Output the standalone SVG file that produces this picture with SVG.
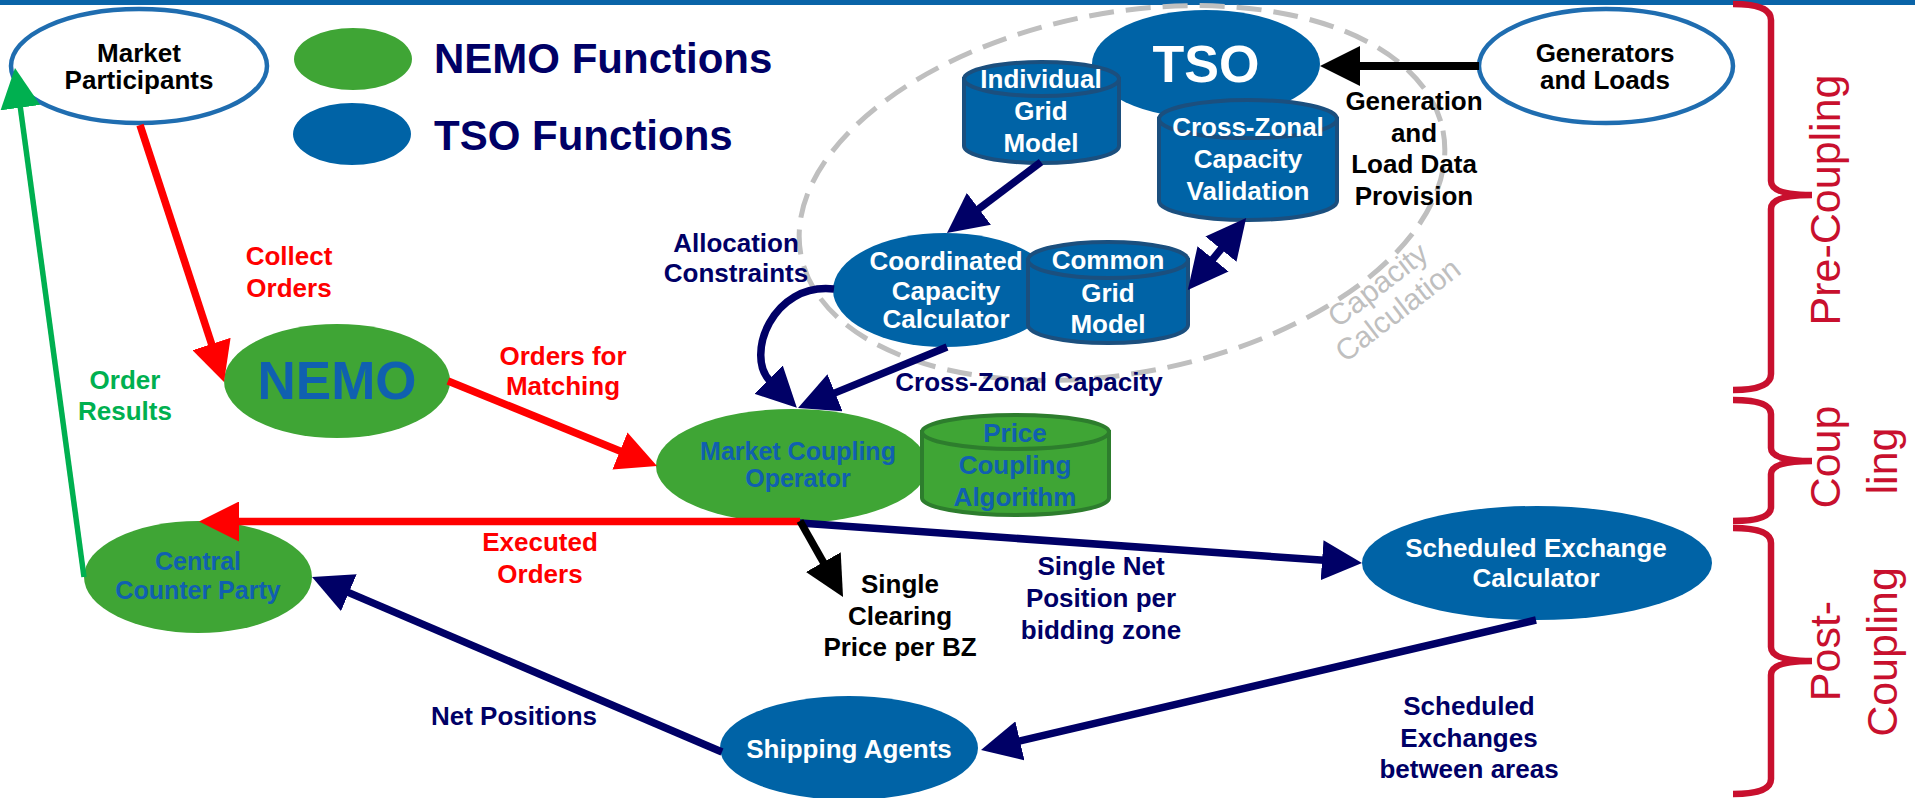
<svg xmlns="http://www.w3.org/2000/svg" width="1915" height="798" viewBox="0 0 1915 798">
<style>
text { font-family: "Liberation Sans", Arial, Helvetica, sans-serif; font-weight: bold; font-size: 26px; }
.c { text-anchor: middle; }
.w { fill: #ffffff; }
.k { fill: #000000; }
.nv { fill: #000066; }
.rd { fill: #FF0000; }
.gr { fill: #00B050; }
.bl { fill: #1060B0; }
.tsof { fill: #0063A6; }
.nemof { fill: #3FA535; }
.cylb { fill: #0063A6; stroke: #1B4F7E; stroke-width: 4; }
.cylg { fill: #3FA535; stroke: #2D7D2D; stroke-width: 4; }
.ext { fill: #ffffff; stroke: #1F6DB0; stroke-width: 4.5; }
.ln { fill: none; stroke-width: 7.5; }
.lred { stroke: #FF0000; marker-end: url(#ah-red); }
.lnav { stroke: #000066; marker-end: url(#ah-nav); }
.lblk { stroke: #000000; marker-end: url(#ah-blk); }
.lgrn { stroke: #00B050; stroke-width: 5.5; marker-end: url(#ah-grn); }
.brace { fill: none; stroke: #C8102E; stroke-width: 6.5; }
.bt { font-weight: normal; font-size: 43px; fill: #C8102E; text-anchor: middle; }
.cap { font-weight: normal; font-size: 30px; fill: #BFBFBF; text-anchor: middle; }
</style>
<defs>
<marker id="ah-red" markerUnits="userSpaceOnUse" markerWidth="40" markerHeight="40" viewBox="0 0 40 40" refX="2" refY="20" orient="auto"><path d="M0,0 L40,20 L0,40 Z" fill="#FF0000"/></marker>
<marker id="ah-nav" markerUnits="userSpaceOnUse" markerWidth="40" markerHeight="40" viewBox="0 0 40 40" refX="2" refY="20" orient="auto-start-reverse"><path d="M0,0 L40,20 L0,40 Z" fill="#000066"/></marker>
<marker id="ah-blk" markerUnits="userSpaceOnUse" markerWidth="40" markerHeight="40" viewBox="0 0 40 40" refX="2" refY="20" orient="auto"><path d="M0,0 L40,20 L0,40 Z" fill="#000000"/></marker>
<marker id="ah-grn" markerUnits="userSpaceOnUse" markerWidth="40" markerHeight="40" viewBox="0 0 40 40" refX="2" refY="20" orient="auto"><path d="M0,0 L40,20 L0,40 Z" fill="#00B050"/></marker>
</defs>

<rect id="top-bar" x="0" y="0" width="1915" height="5" fill="#0A64A8"/>

<g id="capacity-calculation">
<ellipse cx="1122" cy="193" rx="327" ry="180" transform="rotate(-11 1122 193)" fill="none" stroke="#BFBFBF" stroke-width="5" stroke-dasharray="25 12"/>
<text class="cap" transform="translate(1384 293) rotate(-37.6)">Capacity</text>
<text class="cap" transform="translate(1404 318) rotate(-37.6)">Calculation</text>
</g>

<g id="legend">
<ellipse class="nemof" cx="353" cy="59" rx="59" ry="31"/>
<text class="nv" x="434" y="73" style="font-size:42px">NEMO Functions</text>
<ellipse class="tsof" cx="352" cy="134" rx="59" ry="31"/>
<text class="nv" x="434" y="150" style="font-size:42px">TSO Functions</text>
</g>

<g id="market-participants">
<ellipse class="ext" cx="139" cy="66" rx="128" ry="57"/>
<text class="c k"><tspan x="139" y="62">Market</tspan><tspan x="139" y="89">Participants</tspan></text>
</g>

<g id="generators-loads">
<ellipse class="ext" cx="1606" cy="66" rx="127" ry="57"/>
<text class="c k"><tspan x="1605" y="62">Generators</tspan><tspan x="1605" y="89">and Loads</tspan></text>
</g>

<g id="tso">
<ellipse class="tsof" cx="1206" cy="64" rx="114" ry="54"/>
<text class="c w" x="1206" y="82" style="font-size:52px">TSO</text>
</g>

<g id="individual-grid-model">
<path class="cylb" d="M964,79 L964,146 A77.5,17 0 0 0 1119,146 L1119,79 Z"/>
<ellipse class="cylb" cx="1041.5" cy="79" rx="77.5" ry="17"/>
<text class="c w"><tspan x="1041" y="88">Individual</tspan><tspan x="1041" y="120">Grid</tspan><tspan x="1041" y="152">Model</tspan></text>
</g>

<g id="cross-zonal-capacity-validation">
<path class="cylb" d="M1159,119 L1159,201 A89,19 0 0 0 1337,201 L1337,119 Z"/>
<ellipse class="cylb" cx="1248" cy="119" rx="89" ry="19"/>
<text class="c w"><tspan x="1248" y="136">Cross-Zonal</tspan><tspan x="1248" y="168">Capacity</tspan><tspan x="1248" y="200">Validation</tspan></text>
</g>

<g id="coordinated-capacity-calculator">
<ellipse class="tsof" cx="945" cy="290" rx="112" ry="57"/>
<text class="c w"><tspan x="946" y="270">Coordinated</tspan><tspan x="946" y="300">Capacity</tspan><tspan x="946" y="328">Calculator</tspan></text>
</g>

<g id="common-grid-model">
<path class="cylb" d="M1028,260 L1028,325 A80,18 0 0 0 1188,325 L1188,260 Z"/>
<ellipse class="cylb" cx="1108" cy="260" rx="80" ry="18"/>
<text class="c w"><tspan x="1108" y="269">Common</tspan><tspan x="1108" y="302">Grid</tspan><tspan x="1108" y="333">Model</tspan></text>
</g>

<g id="nemo">
<ellipse class="nemof" cx="337" cy="381" rx="113" ry="57"/>
<text class="c bl" x="337" y="399" style="font-size:53px">NEMO</text>
</g>

<g id="market-coupling-operator">
<ellipse class="nemof" cx="792" cy="466" rx="136" ry="57"/>
<text class="c bl" style="font-size:25px"><tspan x="798" y="460">Market Coupling</tspan><tspan x="798" y="487">Operator</tspan></text>
</g>

<g id="price-coupling-algorithm">
<path class="cylg" d="M922,432 L922,498 A93.5,17 0 0 0 1109,498 L1109,432 Z"/>
<ellipse class="cylg" cx="1015.5" cy="432" rx="93.5" ry="17"/>
<text class="c bl"><tspan x="1015" y="442">Price</tspan><tspan x="1015" y="474">Coupling</tspan><tspan x="1015" y="506">Algorithm</tspan></text>
</g>

<g id="central-counter-party">
<ellipse class="nemof" cx="198" cy="577" rx="114" ry="56"/>
<text class="c bl" style="font-size:25px"><tspan x="198" y="570">Central</tspan><tspan x="198" y="599">Counter Party</tspan></text>
</g>

<g id="scheduled-exchange-calculator">
<ellipse class="tsof" cx="1537" cy="563" rx="175" ry="57"/>
<text class="c w"><tspan x="1536" y="557">Scheduled Exchange</tspan><tspan x="1536" y="587">Calculator</tspan></text>
</g>

<g id="shipping-agents">
<ellipse class="tsof" cx="849" cy="748" rx="129" ry="52"/>
<text class="c w" x="849" y="758">Shipping Agents</text>
</g>

<g id="connectors">
<path class="ln lred" d="M140,125 L212.2,345.9"/>
<path class="ln lgrn" d="M84,577 L20.1,105.7"/>
<path class="ln lred" d="M448,381 L621.8,451.7"/>
<path class="ln lred" d="M800,521.5 L237,521.5"/>
<path class="ln lnav" d="M800,523 L1324.1,560.3"/>
<path class="ln lblk" d="M800,521 L824.3,563.9"/>
<path class="ln lnav" d="M722,752 L347,591.9"/>
<path class="ln lnav" d="M1536,620 L1018,741.3"/>
<path class="ln lblk" style="stroke-width:8" d="M1479,66 L1358,66"/>
<path class="ln lnav" d="M1041,162 L977.3,210.1"/>
<path class="ln lnav" d="M947,347 L833.2,393.6"/>
<path class="ln lnav" d="M834,289 C772,282 745,356 770,381"/>
<path class="ln lnav" style="marker-start:url(#ah-nav)" d="M1211.8,260.4 L1222.2,247.6"/>

<text class="c rd"><tspan x="289" y="265">Collect</tspan><tspan x="289" y="297">Orders</tspan></text>
<text class="c gr"><tspan x="125" y="389">Order</tspan><tspan x="125" y="420">Results</tspan></text>
<text class="c rd"><tspan x="563" y="365">Orders for</tspan><tspan x="563" y="395">Matching</tspan></text>
<text class="c rd"><tspan x="540" y="551">Executed</tspan><tspan x="540" y="583">Orders</tspan></text>
<text class="c nv" x="514" y="725">Net Positions</text>
<text class="c nv"><tspan x="1101" y="575">Single Net</tspan><tspan x="1101" y="607">Position per</tspan><tspan x="1101" y="639">bidding zone</tspan></text>
<text class="c k"><tspan x="900" y="593">Single</tspan><tspan x="900" y="625">Clearing</tspan><tspan x="900" y="656">Price per BZ</tspan></text>
<text class="c nv"><tspan x="1469" y="715">Scheduled</tspan><tspan x="1469" y="747">Exchanges</tspan><tspan x="1469" y="778">between areas</tspan></text>
<text class="c nv"><tspan x="736" y="252">Allocation</tspan><tspan x="736" y="282">Constraints</tspan></text>
<text class="c nv" x="1029" y="391">Cross-Zonal Capacity</text>
<text class="c k"><tspan x="1414" y="110">Generation</tspan><tspan x="1414" y="142">and</tspan><tspan x="1414" y="173">Load Data</tspan><tspan x="1414" y="205">Provision</tspan></text>
</g>

<g id="phases">
<path class="brace" d="M1733,4 Q1771,4 1771,20 L1771,181 Q1771,195 1812,195 Q1771,195 1771,209 L1771,374 Q1771,390 1733,390"/>
<path class="brace" d="M1733,400 Q1771,400 1771,414 L1771,448 Q1771,461 1812,461 Q1771,461 1771,474 L1771,507 Q1771,521 1733,521"/>
<path class="brace" d="M1733,528 Q1771,528 1771,543 L1771,647 Q1771,661 1812,661 Q1771,661 1771,675 L1771,779 Q1771,794 1733,794"/>
<text class="bt" transform="translate(1840 200) rotate(-90)">Pre-Coupling</text>
<text class="bt" transform="translate(1840 457) rotate(-90)">Coup</text>
<text class="bt" transform="translate(1897 461) rotate(-90)">ling</text>
<text class="bt" transform="translate(1840 651) rotate(-90)">Post-</text>
<text class="bt" transform="translate(1897 652) rotate(-90)">Coupling</text>
</g>
</svg>
